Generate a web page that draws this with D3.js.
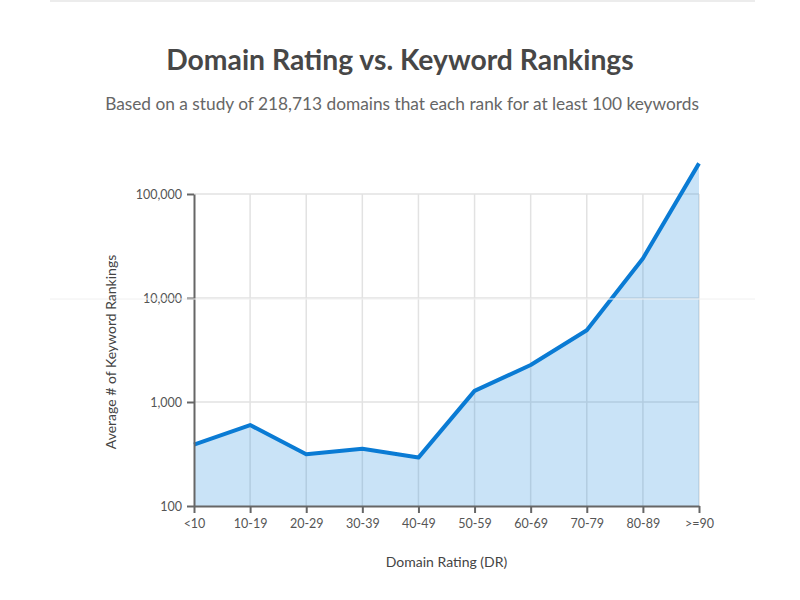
<!DOCTYPE html>
<html>
<head>
<meta charset="utf-8">
<script src="https://cdn.jsdelivr.net/npm/d3@7"></script>
<style>
    body { margin: 0; background: #fff; }
    svg { display: block; font-family: Lato, "Open Sans", sans-serif; }
</style>
</head>
<body>
<div id="chart"></div>
<script>
// Domain rating buckets and average keyword rankings
const categories = ["<10", "10-19", "20-29", "30-39", "40-49", "50-59", "60-69", "70-79", "80-89", ">=90"];
const rankings = [390, 600, 315, 355, 292, 1280, 2270, 4900, 24000, 197000];
const y_ticks = [100, 1000, 10000, 100000];

const title = "Domain Rating vs. Keyword Rankings";
const subtitle = "Based on a study of 218,713 domains that each rank for at least 100 keywords";

(function() {

    const W = 800, H = 600;
    const margin = {top: 194, right: 101, bottom: 94, left: 194};
    const width = W - margin.left - margin.right;
    const height = H - margin.top - margin.bottom;

    const data = categories.map((c, i) => ({cat: c, value: rankings[i]}));

    const svg = d3.select("#chart").append("svg")
        .attr("width", W)
        .attr("height", H);

    // Faint page rule at the top
    svg.append("line")
        .attr("x1", 50).attr("x2", 755).attr("y1", 1).attr("y2", 1)
        .attr("stroke", "#e6e6e6").attr("stroke-width", 1.5);

    // Title and subtitle
    svg.append("text")
        .attr("x", W / 2).attr("y", 70)
        .attr("text-anchor", "middle")
        .attr("font-size", 28.3).attr("font-weight", "bold")
        .attr("fill", "#474747")
        .text(title);

    svg.append("text")
        .attr("x", W / 2 + 2).attr("y", 110)
        .attr("text-anchor", "middle")
        .attr("font-size", 17.3)
        .attr("fill", "#666")
        .text(subtitle);

    const g = svg.append("g")
        .attr("transform", "translate(" + margin.left + "," + margin.top + ")");

    const x = d3.scalePoint().domain(categories).range([0, width]);
    const y = d3.scaleLog().domain([100, 100000]).range([height, 0]);

    // Grid lines
    g.append("g")
        .selectAll("line")
        .data(categories.slice(1))
        .enter().append("line")
        .attr("x1", d => x(d)).attr("x2", d => x(d))
        .attr("y1", 0).attr("y2", height)
        .attr("stroke", "#e2e2e2").attr("stroke-width", 1.5);

    g.append("g")
        .selectAll("line")
        .data(y_ticks.slice(1))
        .enter().append("line")
        .attr("x1", 0).attr("x2", width)
        .attr("y1", d => y(d)).attr("y2", d => y(d))
        .attr("stroke", "#e2e2e2").attr("stroke-width", 1.5);

    // faint rule across the page at the 10,000 line
    svg.append("line")
        .attr("x1", 50).attr("x2", 755)
        .attr("y1", margin.top + y(10000) + 1).attr("y2", margin.top + y(10000) + 1)
        .attr("stroke", "#f0f0f0").attr("stroke-width", 1);

    // Area under the line
    const area = d3.area()
        .x(d => x(d.cat))
        .y0(height)
        .y1(d => y(d.value));

    g.append("path")
        .datum(data)
        .attr("fill", "rgba(30, 140, 220, 0.24)")
        .attr("d", area);

    const line = d3.line()
        .x(d => x(d.cat))
        .y(d => y(d.value));

    g.append("path")
        .datum(data)
        .attr("fill", "none")
        .attr("stroke", "#0a7bd4")
        .attr("stroke-width", 4)
        .attr("stroke-linejoin", "round")
        .attr("d", line);

    // Axes
    const xAxis = g.append("g")
        .attr("transform", "translate(0," + height + ")")
        .call(d3.axisBottom(x).tickSize(7).tickPadding(6).tickSizeOuter(0));

    const yAxis = g.append("g")
        .call(d3.axisLeft(y).tickValues(y_ticks).tickFormat(d3.format(",")).tickSize(7).tickPadding(5).tickSizeOuter(0));

    [xAxis, yAxis].forEach(function(a) {
        a.select(".domain").attr("stroke", "#666").attr("stroke-width", 2);
        a.selectAll(".tick line").attr("stroke", "#666").attr("stroke-width", 2);
        a.selectAll(".tick text")
            .attr("fill", "#555")
            .attr("font-size", 12.5)
            .attr("font-family", "Lato, sans-serif");
    });
    yAxis.selectAll(".tick text").attr("dy", "0.32em");

    // Axis labels
    svg.append("text")
        .attr("x", margin.left + width / 2).attr("y", 567)
        .attr("text-anchor", "middle")
        .attr("font-size", 14)
        .attr("fill", "#444")
        .text("Domain Rating (DR)");

    svg.append("text")
        .attr("transform", "translate(116," + (margin.top + height / 2 + 2) + ") rotate(-90)")
        .attr("text-anchor", "middle")
        .attr("font-size", 14)
        .attr("fill", "#444")
        .text("Average # of Keyword Rankings");

})();
</script>
</body>
</html>
